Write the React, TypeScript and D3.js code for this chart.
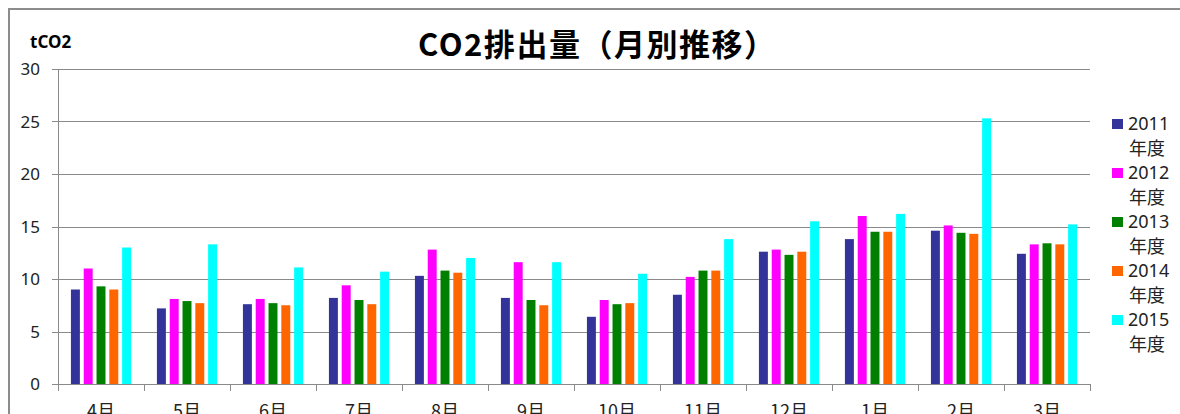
import React from "react";
import * as d3 from "d3";

const months = ["4月", "5月", "6月", "7月", "8月", "9月", "10月", "11月", "12月", "1月", "2月", "3月"];
const seriesNames = ["2011", "2012", "2013", "2014", "2015"];
const values2011 = [9.0, 7.2, 7.6, 8.2, 10.3, 8.2, 6.4, 8.5, 12.6, 13.8, 14.6, 12.4];
const values2012 = [11.0, 8.1, 8.1, 9.4, 12.8, 11.6, 8.0, 10.2, 12.8, 16.0, 15.1, 13.3];
const values2013 = [9.3, 7.9, 7.7, 8.0, 10.8, 8.0, 7.6, 10.8, 12.3, 14.5, 14.4, 13.4];
const values2014 = [9.0, 7.7, 7.5, 7.6, 10.6, 7.5, 7.7, 10.8, 12.6, 14.5, 14.3, 13.3];
const values2015 = [13.0, 13.3, 11.1, 10.7, 12.0, 11.6, 10.5, 13.8, 15.5, 16.2, 25.3, 15.2];
const yTicks = [0, 5, 10, 15, 20, 25, 30];
const colors = ["#333399", "#FF00FF", "#008000", "#FF6600", "#00FFFF"];
const allValues = [values2011, values2012, values2013, values2014, values2015];

const W = 1180;
const H = 414;
const plotLeft = 58;
const plotRight = 1090;
const plotTop = 69;
const plotBottom = 384;
const gridColor = "#8a8a8a";
const numFont = "'Noto Sans', 'Noto Sans CJK JP', sans-serif";
const jpFont = "'Noto Sans CJK JP', 'Noto Sans', sans-serif";

export default function App() {
  const x0 = d3.scaleBand<string>().domain(months).range([plotLeft, plotRight]).padding(0);
  const bw = x0.bandwidth();
  const x1 = d3
    .scaleBand<string>()
    .domain(seriesNames)
    .range([11, bw - 11])
    .paddingInner(0.3)
    .paddingOuter(0.15);
  const y = d3.scaleLinear().domain([0, 30]).range([plotBottom, plotTop]);

  const boundaries = months.map((m) => x0(m) as number).concat([plotRight]);

  return (
    <svg
      width={W}
      height={H}
      style={{ position: "absolute", left: 0, top: 0, display: "block", background: "#fff" }}
    >
      {/* chart frame */}
      <line x1={8} x2={W} y1={9} y2={9} stroke="#8c8c8c" strokeWidth={2} />
      <line x1={9} x2={9} y1={8} y2={H} stroke="#8c8c8c" strokeWidth={2} />

      {/* title */}
      <text
        x={418}
        y={56}
        fontFamily={jpFont}
        fontWeight="bold"
        fontSize={31}
        fill="#000"
        textLength={357}
        lengthAdjust="spacing"
      >
        CO2排出量（月別推移）
      </text>
      <text x={30} y={47.5} fontFamily={numFont} fontWeight="bold" fontSize={17} fill="#000">
        tCO2
      </text>

      {/* gridlines and y ticks */}
      {yTicks.map((t) => (
        <g key={t}>
          {t > 0 && (
            <line x1={plotLeft} x2={plotRight} y1={Math.round(y(t)) + 0.5} y2={Math.round(y(t)) + 0.5} stroke={gridColor} />
          )}
          <line x1={plotLeft - 6} x2={plotLeft} y1={Math.round(y(t)) + 0.5} y2={Math.round(y(t)) + 0.5} stroke={gridColor} />
          <text
            x={40}
            y={y(t) + 6}
            textAnchor="end"
            fontFamily={numFont}
            fontSize={17}
            fill="#222"
          >
            {t}
          </text>
        </g>
      ))}

      {/* y axis line */}
      <line x1={plotLeft + 0.5} x2={plotLeft + 0.5} y1={plotTop} y2={plotBottom} stroke={gridColor} />

      {/* bars */}
      {allValues.map((vals, si) => (
        <g key={seriesNames[si]} fill={colors[si]}>
          {vals.map((v, mi) => (
            <rect
              key={mi}
              x={(x0(months[mi]) as number) + (x1(seriesNames[si]) as number)}
              y={y(v)}
              width={x1.bandwidth()}
              height={plotBottom - y(v)}
            />
          ))}
        </g>
      ))}

      {/* x axis */}
      <line x1={plotLeft} x2={plotRight} y1={plotBottom + 0.5} y2={plotBottom + 0.5} stroke={gridColor} />
      {boundaries.map((bx, i) => (
        <line key={i} x1={Math.round(bx) + 0.5} x2={Math.round(bx) + 0.5} y1={plotBottom} y2={plotBottom + 7} stroke={gridColor} />
      ))}
      {months.map((m) => (
        <text
          key={m}
          x={(x0(m) as number) + bw / 2}
          y={418}
          textAnchor="middle"
          fontFamily={jpFont}
          fontSize={18}
          fill="#222"
        >
          {m}
        </text>
      ))}

      {/* legend */}
      {seriesNames.map((s, i) => {
        const base = 130 + i * 49;
        return (
          <g key={s}>
            <rect x={1112} y={base - 11} width={11} height={10} fill={colors[i]} />
            <text x={1128} y={base} fontFamily={numFont} fontSize={18} fill="#222">
              {s}
            </text>
            <text x={1129} y={base + 24.5} fontFamily={jpFont} fontSize={18} fill="#222">
              年度
            </text>
          </g>
        );
      })}
    </svg>
  );
}
